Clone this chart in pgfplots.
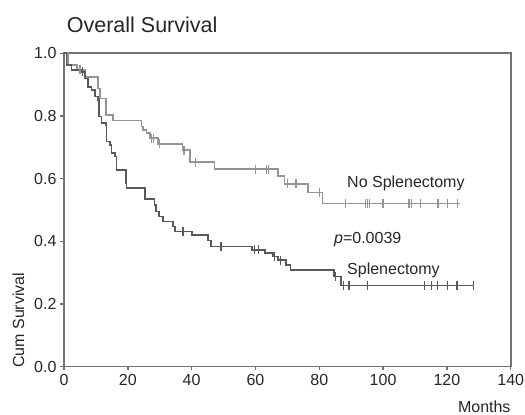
\documentclass[border=0pt]{standalone}
\usepackage{fontspec}
\setmainfont{Liberation Sans}
\usepackage{pgfplots}
\pgfplotsset{compat=1.18}
\usepackage{pgfplotstable}
\definecolor{axisgray}{rgb}{0.45,0.45,0.45}
\definecolor{nosplen}{rgb}{0.58,0.58,0.58}
\definecolor{splen}{rgb}{0.35,0.35,0.35}

\pgfplotstableread{
t s
0 1.000
1.2 0.962
4.0 0.947
6.5 0.925
10.7 0.888
11.2 0.856
13.1 0.803
15.3 0.786
24.3 0.766
24.8 0.755
25.8 0.745
27.0 0.729
29.4 0.711
37.2 0.691
39.4 0.652
47.2 0.630
67.0 0.608
69.1 0.583
76.4 0.555
81.0 0.521
124.0 0.521
}\nosplenline

\pgfplotstableread{
t s
5.0 0.947
27.4 0.729
28.1 0.729
30.0 0.711
37.6 0.691
41.2 0.652
60.0 0.630
63.5 0.630
64.2 0.630
70.1 0.583
72.7 0.583
80.0 0.555
88.1 0.521
94.4 0.521
95.1 0.521
95.8 0.521
100.0 0.521
108.1 0.521
109.0 0.521
111.8 0.521
117.2 0.521
120.1 0.521
123.4 0.521
}\nosplencens

\pgfplotstableread{
t s
0 1.000
0.8 0.963
2.4 0.947
5.5 0.941
6.5 0.920
7.6 0.893
8.6 0.883
9.7 0.862
10.7 0.851
11.0 0.798
11.8 0.777
13.1 0.771
13.3 0.718
14.4 0.707
14.9 0.681
15.9 0.670
16.5 0.628
19.4 0.585
19.6 0.569
25.3 0.534
28.4 0.516
28.9 0.495
29.8 0.479
31.0 0.463
34.2 0.447
34.7 0.431
40.2 0.420
45.1 0.402
46.0 0.383
59.0 0.372
63.0 0.362
65.5 0.351
67.0 0.340
69.5 0.325
71.0 0.309
84.7 0.287
86.8 0.258
128.4 0.258
}\splenline

\pgfplotstableread{
t s
5.8 0.941
37.3 0.431
49.2 0.383
59.7 0.372
61.0 0.372
66.0 0.351
67.8 0.340
85.2 0.287
87.5 0.258
89.3 0.258
95.1 0.258
113.1 0.258
115.2 0.258
117.0 0.258
120.1 0.258
123.2 0.258
128.4 0.258
}\splencens

\begin{document}
\begin{tikzpicture}[x=1pt,y=1pt]
\useasboundingbox (0,0) rectangle (525,415);
\node[anchor=base west, inner sep=0pt, font=\fontsize{21.5}{25}\selectfont, text=black!85] at (66.7,382.7) {Overall Survival};
\node[rotate=90, anchor=west, inner sep=0pt, font=\fontsize{16}{19}\selectfont, text=black!85] at (18.3,47) {Cum Survival};
\node[anchor=base east, inner sep=0pt, font=\fontsize{16}{19}\selectfont, text=black!85] at (510.7,2) {Months};
\begin{axis}[
  at={(64pt,48.5pt)}, anchor=south west,
  scale only axis, width=446.7pt, height=313.2pt,
  xmin=0, xmax=140, ymin=0, ymax=1,
  enlargelimits=false,
  xtick={0,20,...,140}, ytick={0,0.2,...,1.0},
  yticklabel style={/pgf/number format/fixed, /pgf/number format/fixed zerofill, /pgf/number format/precision=1},
  /pgf/number format/assume math mode=true,
  tick label style={font=\fontsize{16}{19}\selectfont, text=black!85},
  tick pos=left, tick align=outside,
  major tick length=4pt,
  axis line style={draw=axisgray, line width=1.8pt},
  every tick/.style={draw=axisgray, line width=1.4pt},
  clip=false,
]
\addplot[const plot mark left, draw=nosplen, line width=1.6pt, mark=none] table[x=t,y=s] {\nosplenline};
\addplot[only marks, mark=|, mark size=4.5pt, mark options={draw=nosplen, line width=1.2pt}] table[x=t,y=s] {\nosplencens};
\addplot[const plot mark left, draw=splen, line width=1.6pt, mark=none] table[x=t,y=s] {\splenline};
\addplot[only marks, mark=|, mark size=4.5pt, mark options={draw=splen, line width=1.2pt}] table[x=t,y=s] {\splencens};
\node[anchor=west, inner sep=0pt, font=\fontsize{16}{19}\selectfont, text=black!85] at (axis cs:88.7,0.585) {No Splenectomy};
\node[anchor=west, inner sep=0pt, font=\fontsize{16}{19}\selectfont, text=black!85] at (axis cs:84.6,0.404) {\textit{p}=0.0039};
\node[anchor=west, inner sep=0pt, font=\fontsize{16}{19}\selectfont, text=black!85] at (axis cs:88.7,0.308) {Splenectomy};
\end{axis}
\end{tikzpicture}
\end{document}
